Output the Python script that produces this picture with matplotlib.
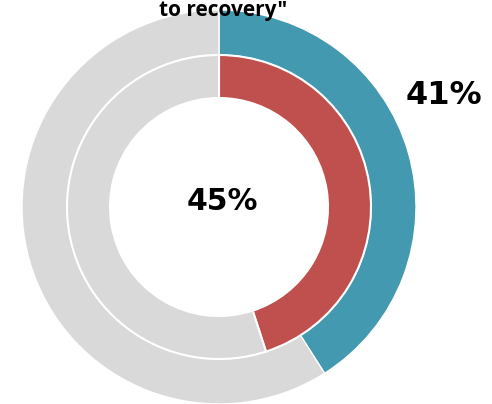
import matplotlib
matplotlib.use("Agg")
import matplotlib.pyplot as plt

# ring values (percent)
outer_vals = [41, 59]
inner_vals = [45, 55]
outer_colors = ["#4399B0", "#D9D9D9"]
inner_colors = ["#C0504D", "#D9D9D9"]
outer_label = "41%"
inner_label = "45%"
title_text = 'to recovery"'

fig = plt.figure(figsize=(4.92, 4.04), dpi=100)
ax = fig.add_axes([0, 0, 1, 1])

cx, cy = 219, 197
ax.pie(outer_vals, colors=outer_colors, startangle=90, counterclock=False,
       radius=197, center=(cx, cy), frame=True,
       wedgeprops=dict(width=45, edgecolor="white", linewidth=1))
ax.pie(inner_vals, colors=inner_colors, startangle=90, counterclock=False,
       radius=152, center=(cx, cy), frame=True,
       wedgeprops=dict(width=43, edgecolor="white", linewidth=1.5))
ax.set_xlim(0, 492)
ax.set_ylim(0, 404)
ax.set_aspect("equal")
ax.axis("off")

ax.text(223, 404 - 16, title_text, ha="center", va="baseline",
        fontsize=15, fontweight="bold", family=["Open Sans", "DejaVu Sans"])
ax.text(444, 404 - 96, outer_label, ha="center", va="center",
        fontsize=23, fontweight="bold", family="DejaVu Sans")
ax.text(222, 404 - 202, inner_label, ha="center", va="center",
        fontsize=21.5, fontweight="bold", family="DejaVu Sans")

fig.savefig("out.png", dpi=100)
